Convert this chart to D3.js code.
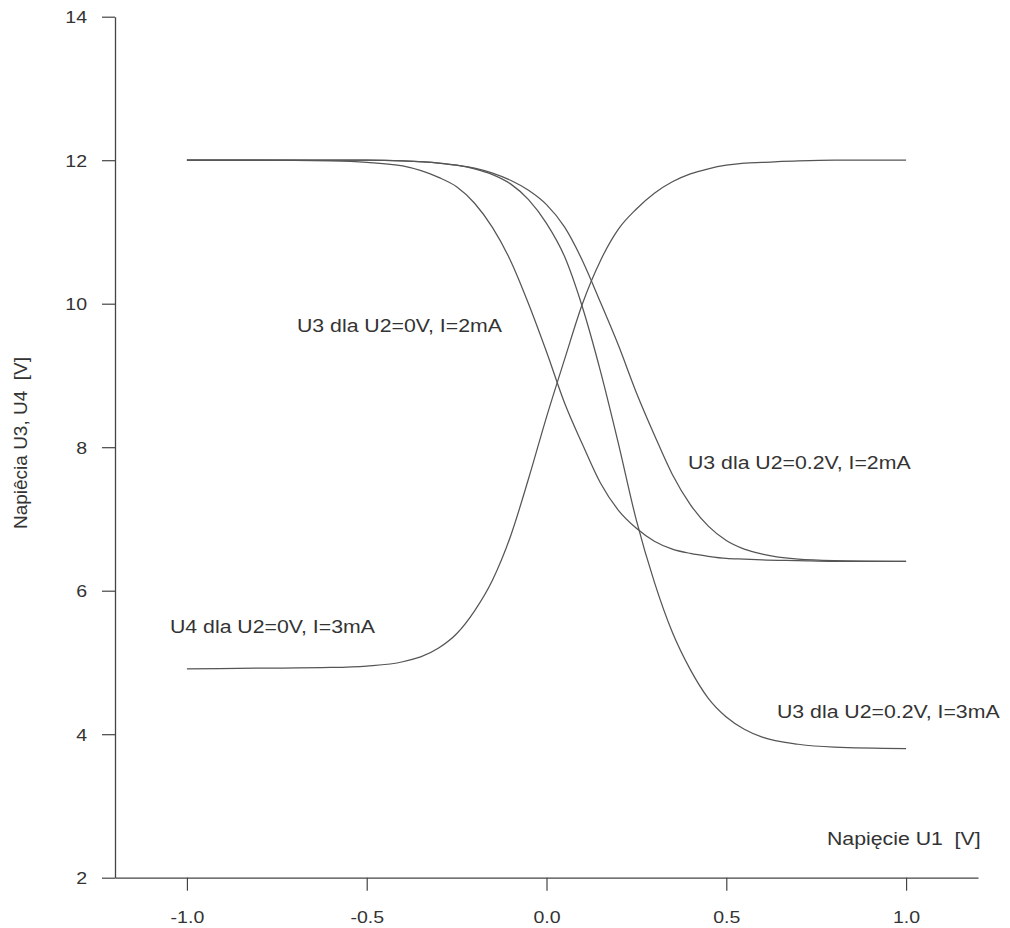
<!DOCTYPE html>
<html>
<head>
<meta charset="utf-8">
<script src="https://cdn.jsdelivr.net/npm/d3@7/dist/d3.min.js"></script>
<style>
  html, body { margin: 0; padding: 0; background: #fff; }
  svg { display: block; }
  text { font-family: "Liberation Sans", Arial, sans-serif; fill: #333; white-space: pre; }
</style>
</head>
<body>
<svg id="chart" width="1010" height="928"></svg>
<script>
// ---------- data ----------
const u1 = [-1.0, -0.8, -0.6, -0.5, -0.4, -0.3, -0.25, -0.2, -0.15, -0.1, -0.05, 0.0,
            0.05, 0.1, 0.15, 0.2, 0.25, 0.3, 0.35, 0.4, 0.45, 0.5, 0.55, 0.6, 0.7, 0.8, 1.0];

// U3 dla U2=0V, I=2mA
const u3_0V_2mA = [12.0, 12.0, 11.99, 11.97, 11.92, 11.76, 11.63, 11.4, 11.06, 10.6, 10.0, 9.33,
                   8.62, 8.04, 7.5, 7.12, 6.87, 6.69, 6.58, 6.52, 6.48, 6.45, 6.44, 6.43, 6.42, 6.41, 6.41];
// U3 dla U2=0.2V, I=2mA
const u3_02V_2mA = [12.0, 12.0, 12.0, 12.0, 11.99, 11.96, 11.93, 11.89, 11.82, 11.72, 11.58, 11.38,
                    11.07, 10.6, 10.02, 9.42, 8.76, 8.17, 7.62, 7.2, 6.9, 6.7, 6.58, 6.51, 6.44, 6.42, 6.41];
// U3 dla U2=0.2V, I=3mA
const u3_02V_3mA = [12.0, 12.0, 12.0, 12.0, 11.99, 11.96, 11.93, 11.88, 11.8, 11.67, 11.45, 11.12,
                    10.66, 9.95, 9.06, 8.05, 6.98, 6.12, 5.42, 4.9, 4.5, 4.24, 4.07, 3.96, 3.86, 3.82, 3.8];
// U4 dla U2=0V, I=3mA
const u4_0V_3mA = [4.91, 4.92, 4.93, 4.95, 5.01, 5.2, 5.4, 5.72, 6.15, 6.76, 7.56, 8.42,
                   9.22, 10.0, 10.6, 11.04, 11.32, 11.54, 11.7, 11.81, 11.88, 11.93, 11.96, 11.97, 11.99, 12.0, 12.0];

const seriesLabels = ["U3 dla U2=0V, I=2mA", "U3 dla U2=0.2V, I=2mA", "U3 dla U2=0.2V, I=3mA", "U4 dla U2=0V, I=3mA"];

const xTicks = [-1.0, -0.5, 0.0, 0.5, 1.0];
const xTickLabels = ["-1.0", "-0.5", "0.0", "0.5", "1.0"];
const yTicks = [2, 4, 6, 8, 10, 12, 14];
const yTickLabels = ["2", "4", "6", "8", "10", "12", "14"];

const xTitle = "Napięcie U1  [V]";
const yTitle = "Napiêcia U3, U4  [V]";

// ---------- drawing ----------
const svg = d3.select("#chart");
const SX = 1.15; // horizontal glyph stretch of the original

const x = d3.scaleLinear().domain([-1.2, 1.2]).range([115, 978]);
const y = d3.scaleLinear().domain([2, 14]).range([877.7, 16.7]);

const axisColor = "#444";

// X axis
const xAxis = d3.axisBottom(x).tickValues(xTicks).tickSize(13).tickSizeOuter(0)
  .tickFormat((d, i) => xTickLabels[i]);
const gx = svg.append("g").attr("transform", `translate(0,${y(2)})`).call(xAxis);
gx.select(".domain").attr("stroke", axisColor).attr("stroke-width", 1.3);
gx.selectAll(".tick line").attr("stroke", axisColor).attr("stroke-width", 1.2);
gx.selectAll(".tick text")
  .attr("y", 0).attr("dy", 0)
  .attr("transform", `translate(0,45) scale(${SX},1)`)
  .style("font-size", "17px").attr("fill", "#2a2a2a");

// Y axis
const yAxis = d3.axisLeft(y).tickValues(yTicks).tickSize(13).tickSizeOuter(0)
  .tickFormat((d, i) => yTickLabels[i]);
const gy = svg.append("g").attr("transform", `translate(${x(-1.2)},0)`).call(yAxis);
gy.select(".domain").attr("stroke", axisColor).attr("stroke-width", 1.3);
gy.selectAll(".tick line").attr("stroke", axisColor).attr("stroke-width", 1.2);
gy.selectAll(".tick text")
  .attr("x", 0).attr("dy", "0.35em")
  .attr("transform", `translate(-28,0) scale(${SX},1)`)
  .style("font-size", "17px").attr("fill", "#2a2a2a");

// Lines
const allSeries = [u3_0V_2mA, u3_02V_2mA, u3_02V_3mA, u4_0V_3mA];
const line = d3.line()
  .x((d, i) => x(u1[i]))
  .y(d => y(d))
  .curve(d3.curveMonotoneX);
svg.append("g").selectAll("path").data(allSeries).join("path")
  .attr("d", d => line(d))
  .attr("fill", "none")
  .attr("stroke", "#555")
  .attr("stroke-width", 1.25);

// Annotations
const annPos = [[297, 332], [688, 469], [777, 718], [170, 633]];
seriesLabels.forEach((t, i) => {
  svg.append("text")
    .attr("transform", `translate(${annPos[i][0]},${annPos[i][1]}) scale(${SX},1)`)
    .style("font-size", "18.5px")
    .text(t);
});

// Axis titles
svg.append("text")
  .attr("transform", `translate(827,845) scale(${SX},1)`)
  .style("font-size", "18.5px")
  .text(xTitle);

svg.append("text")
  .attr("transform", `translate(27,443) rotate(-90)`)
  .attr("text-anchor", "middle")
  .style("font-size", "19px")
  .text(yTitle);
</script>
</body>
</html>
